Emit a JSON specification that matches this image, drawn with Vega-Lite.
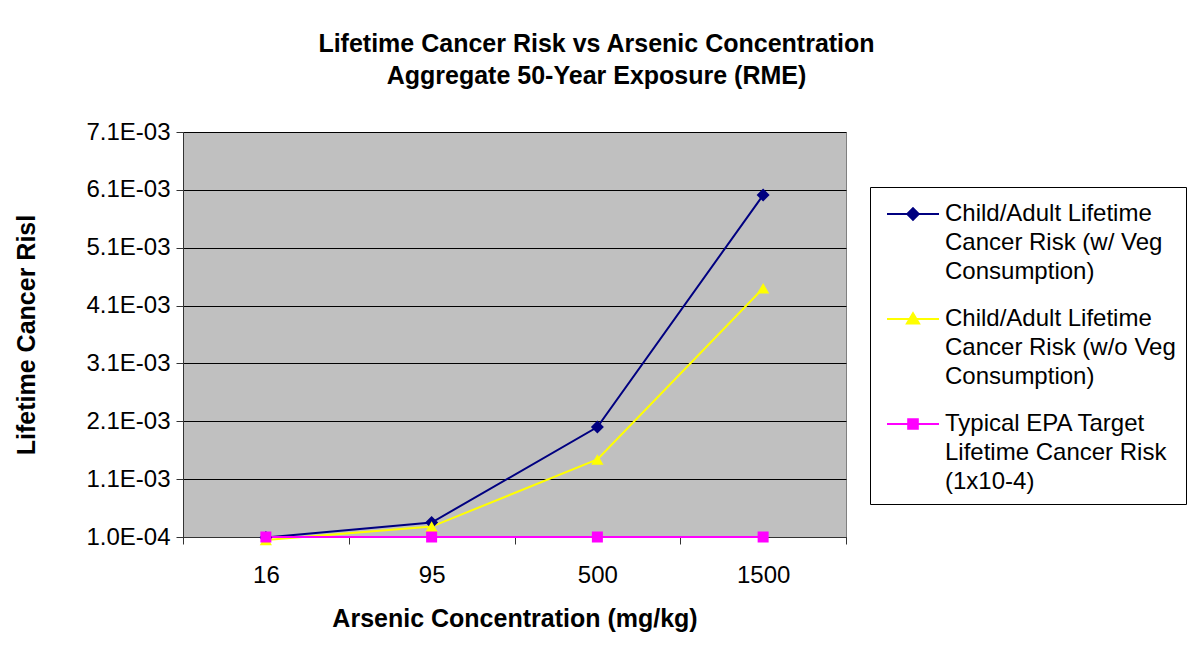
{
  "$schema": "https://vega.github.io/schema/vega-lite/v6.json",
  "width": 663,
  "height": 405,
  "autosize": {"type": "none"},
  "padding": {"left": 183, "top": 132, "right": 341, "bottom": 125},
  "background": "white",
  "title": {
    "text": ["Lifetime Cancer Risk vs Arsenic Concentration", "Aggregate 50-Year Exposure (RME)"],
    "font": "Liberation Sans",
    "fontSize": 25,
    "fontWeight": "bold",
    "color": "black",
    "lineHeight": 32,
    "anchor": "middle",
    "dx": 82,
    "offset": 31
  },
  "data": {
    "values": [
      {"conc": "16", "series": "Child/Adult Lifetime Cancer Risk (w/ Veg Consumption)", "risk": 0.00009},
      {"conc": "95", "series": "Child/Adult Lifetime Cancer Risk (w/ Veg Consumption)", "risk": 0.00035},
      {"conc": "500", "series": "Child/Adult Lifetime Cancer Risk (w/ Veg Consumption)", "risk": 0.002},
      {"conc": "1500", "series": "Child/Adult Lifetime Cancer Risk (w/ Veg Consumption)", "risk": 0.00601},
      {"conc": "16", "series": "Child/Adult Lifetime Cancer Risk (w/o Veg Consumption)", "risk": 0.00005},
      {"conc": "95", "series": "Child/Adult Lifetime Cancer Risk (w/o Veg Consumption)", "risk": 0.00028},
      {"conc": "500", "series": "Child/Adult Lifetime Cancer Risk (w/o Veg Consumption)", "risk": 0.00144},
      {"conc": "1500", "series": "Child/Adult Lifetime Cancer Risk (w/o Veg Consumption)", "risk": 0.0044},
      {"conc": "16", "series": "Typical EPA Target Lifetime Cancer Risk (1x10-4)", "risk": 0.0001},
      {"conc": "95", "series": "Typical EPA Target Lifetime Cancer Risk (1x10-4)", "risk": 0.0001},
      {"conc": "500", "series": "Typical EPA Target Lifetime Cancer Risk (1x10-4)", "risk": 0.0001},
      {"conc": "1500", "series": "Typical EPA Target Lifetime Cancer Risk (1x10-4)", "risk": 0.0001}
    ]
  },
  "encoding": {
    "x": {
      "field": "conc",
      "type": "ordinal",
      "sort": ["16", "95", "500", "1500"],
      "bandPosition": 0.5,
      "scale": {"type": "band", "paddingInner": 0, "paddingOuter": 0},
      "axis": {
        "title": "Arsenic Concentration (mg/kg)",
        "labelAngle": 0,
        "labelFont": "Liberation Sans",
        "labelFontSize": 24,
        "labelColor": "black",
        "labelPadding": 19,
        "tickSize": 7,
        "tickBand": "extent",
        "tickColor": "#333333",
        "domainColor": "#333333",
        "grid": false,
        "titleFont": "Liberation Sans",
        "titleFontSize": 25,
        "titleFontWeight": "bold",
        "titleColor": "black",
        "titlePadding": 19
      }
    },
    "y": {
      "field": "risk",
      "type": "quantitative",
      "scale": {"domain": [0.0001, 0.0071], "nice": false, "zero": false},
      "axis": {
        "title": "Lifetime Cancer Risl",
        "values": [0.0001, 0.0011, 0.0021, 0.0031, 0.0041, 0.0051, 0.0061, 0.0071],
        "labelExpr": "replace(upper(format(datum.value, '.1e')), 'E-', 'E-0')",
        "labelFont": "Liberation Sans",
        "labelFontSize": 24,
        "labelColor": "black",
        "labelPadding": 6,
        "tickSize": 7,
        "tickColor": "#333333",
        "domainColor": "#333333",
        "grid": true,
        "gridColor": "black",
        "gridWidth": 1,
        "gridOpacity": 1,
        "titleFont": "Liberation Sans",
        "titleFontSize": 25,
        "titleFontWeight": "bold",
        "titleColor": "black",
        "titlePadding": 46
      }
    },
    "color": {
      "field": "series",
      "type": "nominal",
      "scale": {
        "domain": [
          "Child/Adult Lifetime Cancer Risk (w/ Veg Consumption)",
          "Child/Adult Lifetime Cancer Risk (w/o Veg Consumption)",
          "Typical EPA Target Lifetime Cancer Risk (1x10-4)"
        ],
        "range": ["#000080", "#FFFF00", "#FF00FF"]
      },
      "legend": {
        "title": null,
        "orient": "none",
        "legendX": 687,
        "legendY": 55,
        "direction": "vertical",
        "strokeColor": "black",
        "fillColor": "white",
        "padding": 10,
        "labelFont": "Liberation Sans",
        "labelFontSize": 24,
        "labelColor": "black",
        "labelLimit": 400,
        "labelBaseline": "top",
        "symbolSize": 1024,
        "symbolOffset": 16,
        "labelOffset": 15,
        "rowPadding": 18,
        "symbolStrokeWidth": 2,
        "symbolOpacity": 1,
        "labelExpr": "datum.label == 'Child/Adult Lifetime Cancer Risk (w/ Veg Consumption)' ? ['Child/Adult Lifetime', 'Cancer Risk (w/ Veg', 'Consumption)'] : datum.label == 'Child/Adult Lifetime Cancer Risk (w/o Veg Consumption)' ? ['Child/Adult Lifetime', 'Cancer Risk (w/o Veg', 'Consumption)'] : ['Typical EPA Target', 'Lifetime Cancer Risk', '(1x10-4)']",
        "encode": {
          "symbols": {
            "update": {
              "shape": {"signal": "datum.value == 'Child/Adult Lifetime Cancer Risk (w/ Veg Consumption)' ? 'M-1.625,0L1.625,0M0,-0.36L0.36,0L0,0.36L-0.36,0Z' : datum.value == 'Child/Adult Lifetime Cancer Risk (w/o Veg Consumption)' ? 'M-1.625,0L1.625,0M0,-0.36L0.38,0.28L-0.38,0.28Z' : 'M-1.625,0L1.625,0M-0.3,-0.3L0.3,-0.3L0.3,0.3L-0.3,0.3Z'"},
              "fill": {"scale": "color", "field": "value"},
              "stroke": {"scale": "color", "field": "value"},
              "strokeWidth": {"value": 2},
              "opacity": {"value": 1}
            }
          },
          "labels": {
            "update": {
              "lineHeight": {"value": 29},
              "dy": {"value": -12}
            }
          }
        }
      }
    }
  },
  "layer": [
    {"mark": {"type": "line", "strokeWidth": 2}},
    {
      "transform": [{"filter": "datum.series == 'Child/Adult Lifetime Cancer Risk (w/ Veg Consumption)'"}],
      "mark": {"type": "point", "filled": true, "size": 170, "opacity": 1, "shape": "diamond"}
    },
    {
      "transform": [{"filter": "datum.series == 'Child/Adult Lifetime Cancer Risk (w/o Veg Consumption)'"}],
      "mark": {"type": "point", "filled": true, "size": 150, "opacity": 1, "shape": "triangle-up"}
    },
    {
      "transform": [{"filter": "datum.series == 'Typical EPA Target Lifetime Cancer Risk (1x10-4)'"}],
      "mark": {"type": "point", "filled": true, "size": 121, "opacity": 1, "shape": "square"}
    }
  ],
  "config": {
    "font": "Liberation Sans",
    "view": {"fill": "#C0C0C0", "stroke": "#808080", "strokeWidth": 1}
  }
}
